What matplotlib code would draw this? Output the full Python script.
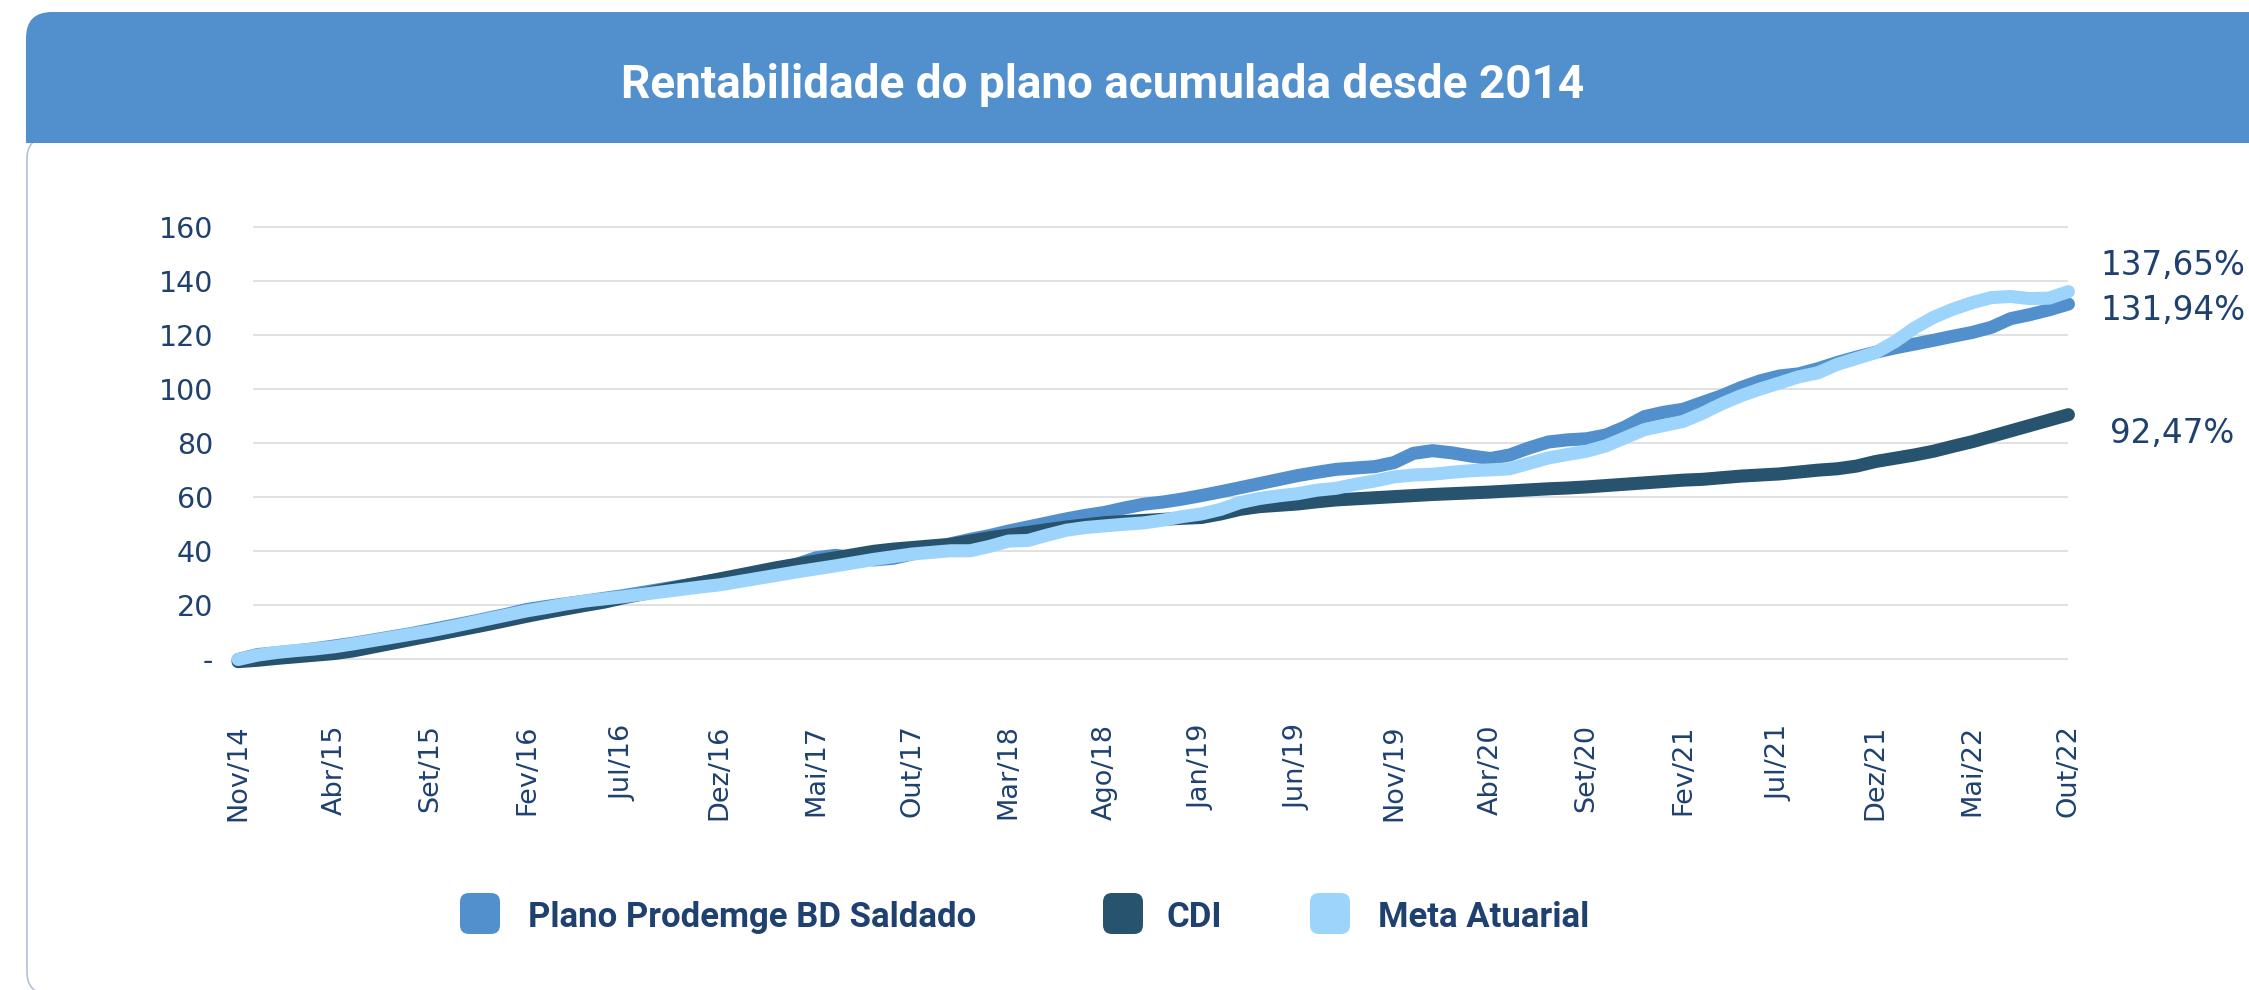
import numpy as np
import matplotlib.pyplot as plt
from matplotlib.patches import FancyBboxPatch, Rectangle
from matplotlib.transforms import IdentityTransform

W, H = 2249, 990

# monthly accumulated returns (%), Nov/14 .. Out/22
plano = [0.0, 1.8, 2.5, 3.2, 4.0, 5.0, 6.0, 7.2, 8.4, 9.6,
         11.0, 12.4, 13.8, 15.3, 16.8, 18.5, 19.6, 20.6, 21.6, 22.6,
         23.6, 24.8, 26.0, 27.2, 28.4, 29.6, 30.9, 32.2, 33.6, 35.2,
         37.6, 38.5, 37.6, 36.8, 37.4, 39.0, 41.0, 42.8, 44.4, 45.8,
         47.5, 49.0, 50.5, 52.0, 53.3, 54.4, 56.0, 57.4, 58.2, 59.3,
         60.6, 62.0, 63.5, 65.0, 66.5, 68.0, 69.2, 70.3, 70.8, 71.3,
         72.8, 76.2, 77.2, 76.4, 75.2, 74.3, 75.6, 78.2, 80.4, 81.2,
         81.6, 83.0, 86.0, 89.8, 91.4, 92.5, 95.0, 97.5, 100.5, 103.0,
         104.8, 105.6, 107.5, 109.8, 111.8, 113.6, 115.2, 116.6, 118.0, 119.5,
         120.9, 122.8, 126.0, 127.5, 129.3, 131.4]
cdi = [-0.8, -0.3, 0.4, 1.0, 1.6, 2.2, 3.2, 4.6, 6.0, 7.4,
       8.8, 10.2, 11.6, 13.0, 14.5, 16.0, 17.4, 18.7, 20.0, 21.2,
       22.8, 24.2, 25.6, 27.0, 28.4, 29.8, 31.2, 32.6, 34.0, 35.2,
       36.4, 37.6, 38.8, 40.0, 40.8, 41.4, 42.0, 42.6, 43.8, 45.0,
       46.0, 47.0, 48.0, 49.0, 49.8, 50.6, 51.0, 51.4, 51.8, 52.2,
       52.5, 53.8, 55.5, 56.5, 57.0, 57.5, 58.3, 59.0, 59.4, 59.8,
       60.2, 60.6, 61.0, 61.3, 61.6, 61.9, 62.3, 62.7, 63.1, 63.4,
       63.8, 64.3, 64.8, 65.3, 65.8, 66.3, 66.6, 67.2, 67.8, 68.2,
       68.6, 69.3, 70.0, 70.5, 71.5, 73.2, 74.4, 75.6, 77.0, 78.8,
       80.5, 82.5, 84.5, 86.5, 88.5, 90.5]
meta = [0.0, 1.6, 2.6, 3.3, 3.9, 4.7, 5.8, 7.0, 8.2, 9.4,
        10.6, 12.0, 13.5, 15.0, 16.5, 18.0, 19.2, 20.5, 21.6, 22.4,
        23.2, 24.1, 25.0, 25.9, 26.8, 27.6, 28.8, 30.0, 31.2, 32.4,
        33.5, 34.6, 35.8, 37.0, 38.0, 39.0, 39.6, 40.2, 40.2, 41.8,
        43.8, 44.0, 46.0, 47.8, 48.8, 49.4, 50.0, 50.5, 51.5, 52.8,
        53.8, 55.5, 58.0, 59.5, 60.5, 61.3, 62.6, 63.3, 64.8, 66.0,
        67.5, 68.2, 68.5, 69.2, 69.8, 70.1, 70.5, 72.5, 74.5, 75.8,
        77.0, 79.0, 82.0, 85.0, 86.5, 88.0, 91.0, 94.5, 97.5, 100.0,
        102.2, 104.5, 106.0, 109.1, 111.3, 113.5, 117.5, 122.5, 126.5, 129.5,
        131.9, 133.8, 134.2, 133.4, 133.6, 136.0]

meses = ["Jan", "Fev", "Mar", "Abr", "Mai", "Jun", "Jul", "Ago", "Set", "Out", "Nov", "Dez"]
months = [f"{meses[(10 + i) % 12]}/{14 + (10 + i) // 12}" for i in range(len(plano))]
yticks = [0, 20, 40, 60, 80, 100, 120, 140, 160]
ylabels = ["-", "20", "40", "60", "80", "100", "120", "140", "160"]
end_labels = ["137,65%", "131,94%", "92,47%"]
series_names = ["Plano Prodemge BD Saldado", "CDI", "Meta Atuarial"]

c_plano, c_cdi, c_meta = "#5290cd", "#27536f", "#9dd4fb"
txt = "#1f4170"

fig = plt.figure(figsize=(W / 100, H / 100), dpi=100)
fig.patch.set_facecolor("white")
ident = IdentityTransform()

# card + header bar (kept behind the axes)
fig.add_artist(FancyBboxPatch((27, -4), 2300, H - 143 + 10, boxstyle="round,pad=0,rounding_size=22",
                              transform=ident, facecolor="white", edgecolor="#b3c1d4", lw=1.2, zorder=-3))
fig.add_artist(FancyBboxPatch((26, H - 143), 2300, 131, boxstyle="round,pad=0,rounding_size=26",
                              transform=ident, facecolor=c_plano, edgecolor="none", zorder=-2))
fig.add_artist(Rectangle((26, H - 143), 2300, 60, transform=ident, facecolor=c_plano,
                         edgecolor="none", zorder=-2))
fig.text(1103 / W, 1 - 98 / H, "Rentabilidade do plano acumulada desde 2014", color="white",
         fontsize=33, fontweight="bold", family="Roboto", ha="center", va="baseline")

# plot area
ax = fig.add_axes([220 / W, 1 - 680 / H, 1860 / W, 480 / H])
ax.set_zorder(1)
ax.set_facecolor("none")
x = np.arange(len(plano))
ax.set_xlim(-0.935, 95.6)
ax.set_ylim(-7.58, 169.87)
ax.hlines(yticks, 0.78, 95.0, color="#d9d9d9", lw=1.1, zorder=0)
for vals, col, z in [(plano, c_plano, 2), (cdi, c_cdi, 3), (meta, c_meta, 4)]:
    ax.plot(x, vals, color=col, lw=9.4, solid_capstyle="round", solid_joinstyle="round",
            clip_on=False, zorder=z)

for s in ax.spines.values():
    s.set_visible(False)
ax.set_yticks(yticks)
ax.set_yticklabels(ylabels, family="DejaVu Sans", fontsize=20.5, color=txt)
ax.set_xticks(x[::5])
ax.set_xticklabels(months[::5], rotation=90, family="DejaVu Sans", fontsize=19.5, color=txt)
ax.tick_params(axis="y", length=0, pad=5)
ax.tick_params(axis="x", length=0, pad=32)

# end values
for lab, xx, yy in zip(end_labels, [2100, 2100, 2110], [275, 320, 443]):
    fig.text(xx / W, 1 - yy / H, lab, fontsize=23.5, color=txt, family="DejaVu Sans",
             ha="left", va="baseline")

# legend
for name, col, mx, tx in zip(series_names, [c_plano, c_cdi, c_meta], [460, 1103, 1310], [528, 1167, 1378]):
    fig.add_artist(FancyBboxPatch((mx, H - 934), 40, 41, boxstyle="round,pad=0,rounding_size=9",
                                  transform=ident, facecolor=col, edgecolor="none"))
    fig.text(tx / W, 1 - 927 / H, name, fontsize=25, fontweight="bold", family="Roboto",
             color=txt, ha="left", va="baseline")

fig.savefig("out.png", dpi=100, facecolor="white")
